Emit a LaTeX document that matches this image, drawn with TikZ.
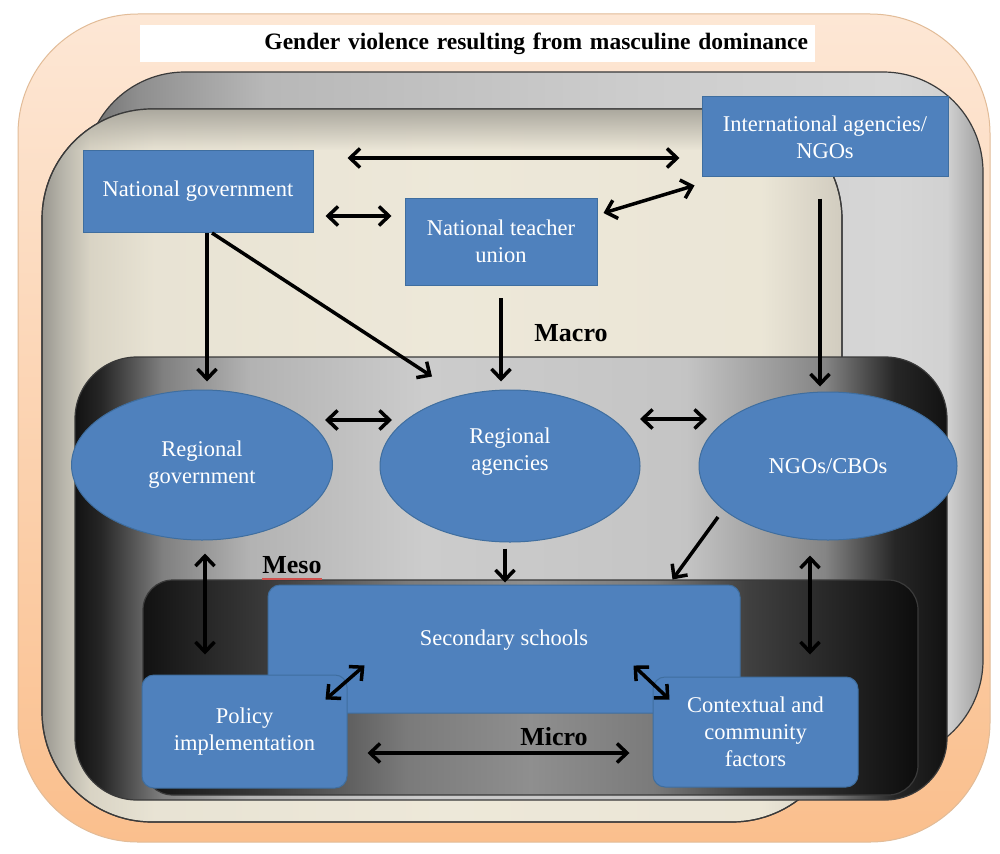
\documentclass[tikz,border=0pt]{standalone}
\usepackage{fontspec}
\setmainfont{Liberation Serif}
\usetikzlibrary{arrows.meta,calc,shapes.geometric,fadings}

\definecolor{boxblue}{HTML}{4F81BD}
\definecolor{boxedge}{HTML}{3F6E9F}
\definecolor{peachtop}{HTML}{FDE7D5}
\definecolor{peachbot}{HTML}{FABF8D}
\definecolor{peachedge}{HTML}{E2BC98}
\definecolor{layeredge}{HTML}{3A3A3A}
\definecolor{squiggle}{HTML}{D0504D}
\definecolor{beigetop}{HTML}{ABA89E}

\pgfdeclarehorizontalshading{backshade}{100bp}{%
 rgb(0bp)=(0.43,0.43,0.43); rgb(25bp)=(0.43,0.43,0.43); rgb(28bp)=(0.56,0.56,0.56);
 rgb(35bp)=(0.72,0.72,0.72); rgb(55bp)=(0.80,0.80,0.80); rgb(70bp)=(0.84,0.84,0.84);
 rgb(73bp)=(0.82,0.82,0.82); rgb(75bp)=(0.62,0.62,0.62); rgb(100bp)=(0.62,0.62,0.62)}
\pgfdeclarehorizontalshading{beigeshade}{100bp}{%
 rgb(0bp)=(0.60,0.59,0.56); rgb(25bp)=(0.60,0.59,0.56); rgb(26.3bp)=(0.72,0.71,0.67);
 rgb(28bp)=(0.85,0.83,0.77); rgb(32bp)=(0.91,0.89,0.83); rgb(50bp)=(0.93,0.91,0.85);
 rgb(70bp)=(0.92,0.90,0.84); rgb(75bp)=(0.82,0.80,0.75); rgb(100bp)=(0.82,0.80,0.75)}
\pgfdeclarehorizontalshading{mesoshade}{100bp}{%
 rgb(0bp)=(0.07,0.07,0.07); rgb(25bp)=(0.07,0.07,0.07); rgb(26.5bp)=(0.15,0.15,0.15);
 rgb(30bp)=(0.50,0.50,0.50); rgb(35bp)=(0.70,0.70,0.70); rgb(45bp)=(0.80,0.80,0.80);
 rgb(60bp)=(0.77,0.77,0.77); rgb(68bp)=(0.52,0.52,0.52); rgb(72bp)=(0.15,0.15,0.15);
 rgb(75bp)=(0.07,0.07,0.07); rgb(100bp)=(0.07,0.07,0.07)}
\pgfdeclarehorizontalshading{microshade}{100bp}{%
 rgb(0bp)=(0.07,0.07,0.07); rgb(25bp)=(0.07,0.07,0.07); rgb(33bp)=(0.23,0.23,0.23);
 rgb(42bp)=(0.48,0.48,0.48); rgb(50bp)=(0.56,0.56,0.56); rgb(58bp)=(0.48,0.48,0.48);
 rgb(64bp)=(0.25,0.25,0.25); rgb(75bp)=(0.05,0.05,0.05); rgb(100bp)=(0.05,0.05,0.05)}

\newcommand\boxfont{\fontsize{22.5}{27}\selectfont}
\newcommand\lvlfont{\fontsize{26}{30}\selectfont\bfseries}
\newcommand\headfont{\fontsize{23.5}{28}\selectfont\bfseries}

\tikzset{
  bluebox/.style={rectangle, fill=boxblue, draw=boxedge, line width=1pt, text=white,
    font=\boxfont, align=center, inner sep=0pt},
  blueround/.style={bluebox, rounded corners=12},
  blueell/.style={ellipse, fill=boxblue, draw=boxedge, line width=1pt, text=white,
    font=\boxfont, align=center, inner sep=0pt},
  lvl/.style={font=\lvlfont, text=black, inner sep=0pt},
  titlebox/.style={rectangle, fill=white, font=\headfont, text=black, minimum height=37,
    text width=661, inner xsep=7, inner ysep=0, align=right},
  layer/.style={draw=layeredge, line width=1.2pt},
  arr/.style={line width=3.5pt, -{Straight Barb[length=10pt,width=19pt]}},
  darr/.style={line width=3.5pt, {Straight Barb[length=10pt,width=19pt]}-{Straight Barb[length=10pt,width=19pt]}},
}

\begin{document}
\begin{tikzpicture}[x=1pt,y=-1pt]
\useasboundingbox (0,0) rectangle (1000,853);
\fill[white] (0,0) rectangle (1000,853);

% outer peach frame
\shadedraw[top color=peachtop, bottom color=peachbot, draw=peachedge, line width=1pt,
  rounded corners=120] (18,14) rectangle (990,842);

% title
\node[titlebox] (title) at (477.5,43.5) {Gender violence resulting from masculine dominance};

% layers
\shadedraw[shading=backshade, layer, rounded corners=100] (85,72) rectangle (983,760);
\shadedraw[shading=beigeshade, layer, rounded corners=110] (42,109) rectangle (842,822);
\begin{scope}
  \clip[rounded corners=110] (42,109) rectangle (842,822);
  \fill[beigetop, path fading=south] (42,109) rectangle (842,150);
\end{scope}
\draw[layer, rounded corners=110] (42,109) rectangle (842,822);
\shadedraw[shading=mesoshade, layer, rounded corners=62] (75,357) rectangle (947,800);
\shadedraw[shading=microshade, layer, rounded corners=30] (143,580) rectangle (918,795);

% macro nodes
\node[bluebox, minimum width=230, minimum height=82] (ng) at (198,191.5) {National government};
\node[bluebox, minimum width=192, minimum height=87] (ntu) at (501,241.5) {National teacher\\union};
\node[bluebox, minimum width=246, minimum height=80] (intl) at (825,137) {International agencies/\\NGOs};

% meso nodes
\node[blueell, minimum width=261, minimum height=150] (rg) at (202,465) {Regional\\government};
\node[blueell, minimum width=260, minimum height=152] (ra) at (510,466)
  {\raisebox{9.5pt}[0pt][0pt]{\begin{tabular}{@{}c@{}}Regional\\agencies\end{tabular}}};
\node[blueell, minimum width=258, minimum height=148] (ngo) at (828,466) {NGOs/CBOs};

% micro nodes
\node[blueround, minimum width=472, minimum height=128] (ss) at (504,649)
  {\raisebox{4pt}[0pt][0pt]{Secondary schools}};
\node[blueround, minimum width=205, minimum height=113] (pi) at (244.5,731.5) {Policy\\implementation};
\node[blueround, minimum width=205, minimum height=110] (cc) at (755.5,732) {Contextual and\\community\\factors};

% level labels
\node[lvl] (macro) at (571,333) {Macro};
\node[lvl] (meso) at (292,565) {Meso};
\node[lvl] (micro) at (554,737) {Micro};
\draw[draw=squiggle, line width=1.4pt] ($(meso.south west)+(0,5)$) -- ($(meso.south east)+(0,5)$);

% macro connectors
\draw[darr] ($(ng.north east)+(34,8)$) -- ($(intl.west)+(-22,21)$);
\draw[darr] ($(ng.east)+(12,24.5)$) -- ($(ntu.west)+(-13,-25.5)$);
\draw[darr] ($(ntu.east)+(6,-28.5)$) -- ($(intl.south west)+(-7,8)$);
\draw[arr] ($(ng.south)+(9,0)$) -- ($(rg.north)+(5,-8)$);
\draw[arr] ($(ng.south)+(14,0)$) -- ($(ra.north)+(-78,-13)$);
\draw[arr] ($(ntu.south)+(0,12.5)$) -- ($(ra.north)+(-9,-8)$);
\draw[arr] ($(intl.south)+(-5,21)$) -- ($(ngo.north)+(-8,-5)$);

% meso connectors
\draw[darr] ($(rg.center)+(123,-45)$) -- ($(ra.center)+(-118,-46)$);
\draw[darr] ($(ra.center)+(130,-47)$) -- ($(ngo.center)+(-121,-47)$);
\draw[arr] ($(ra.south)+(-5,6)$) -- ($(ss.north)+(1,-2)$);
\draw[arr] ($(ngo.center)+(-110,51)$) -- ($(ss.north east)+(-68,-5)$);
\draw[darr] ($(rg.south)+(3,13)$) -- ($(pi.north)+(-39.5,-20)$);
\draw[darr] ($(ngo.south)+(-18,15)$) -- ($(cc.north)+(54.5,-22)$);

% micro connectors
\draw[darr] ($(pi.north east)+(-22,25)$) -- ($(ss.south west)+(97,-48)$);
\draw[darr] ($(ss.south east)+(-107,-48)$) -- ($(cc.north west)+(17,23)$);
\draw[darr] ($(pi.east)+(20,21.5)$) -- ($(cc.west)+(-23,21)$);
\end{tikzpicture}
\end{document}
